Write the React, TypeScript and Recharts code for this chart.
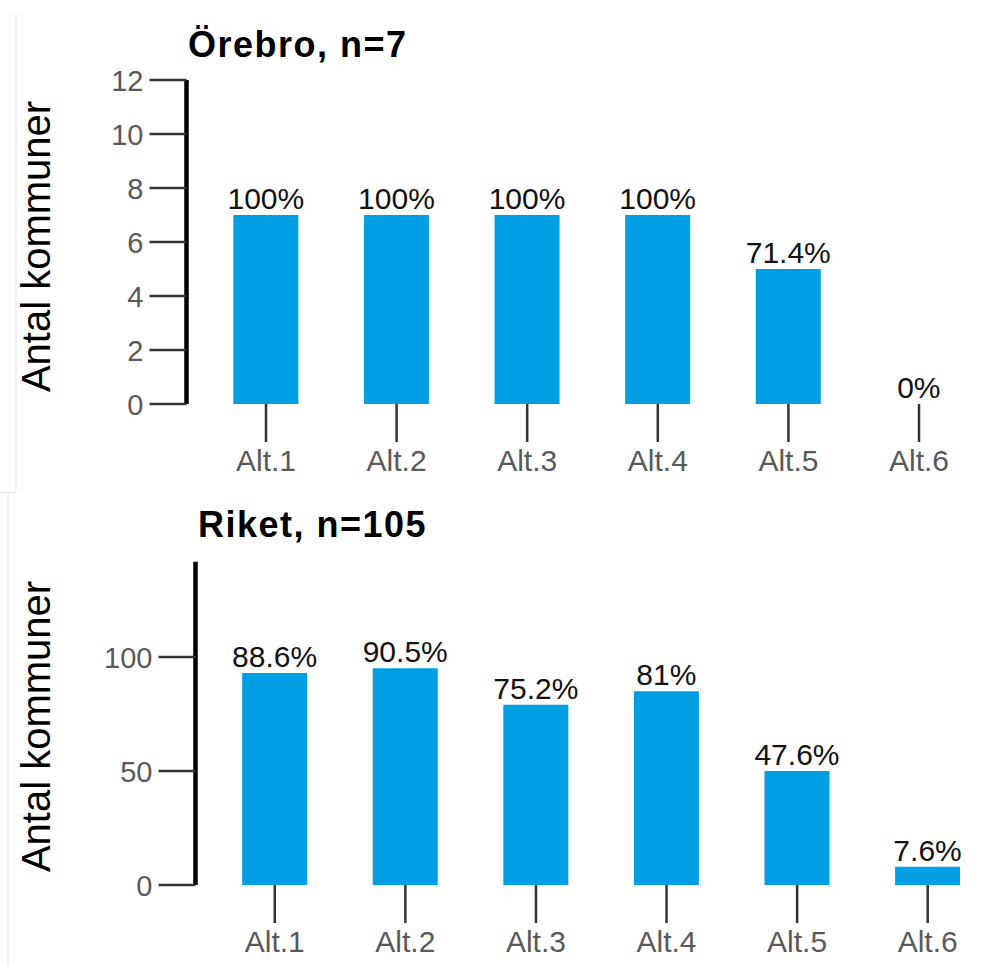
import React from 'react';
import { BarChart, Bar, XAxis, YAxis, LabelList } from 'recharts';

const categories = ['Alt.1', 'Alt.2', 'Alt.3', 'Alt.4', 'Alt.5', 'Alt.6'];
const orebroCounts = [7, 7, 7, 7, 5, 0];
const orebroPct = ['100%', '100%', '100%', '100%', '71.4%', '0%'];
const riketCounts = [93, 95, 79, 85, 50, 8];
const riketPct = ['88.6%', '90.5%', '75.2%', '81%', '47.6%', '7.6%'];
const orebroTicks = [0, 2, 4, 6, 8, 10, 12];
const riketTicks = [0, 50, 100];
const orebroTitle = 'Örebro, n=7';
const riketTitle = 'Riket, n=105';
const yLabel = 'Antal kommuner';

const FONT = '"Liberation Sans", Arial, Helvetica, sans-serif';
const BAR = '#009FE3';
const GRAY = '#595959';

const orebroData = categories.map((c, i) => ({ cat: c, value: orebroCounts[i], pct: orebroPct[i] }));
const riketData = categories.map((c, i) => ({ cat: c, value: riketCounts[i], pct: riketPct[i] }));

const XTick = (props: any) => {
  const { x, y, payload } = props;
  return (
    <text x={x} y={y + 29} textAnchor="middle" fontSize={30} fontFamily={FONT} fill={GRAY}>
      {payload.value}
    </text>
  );
};

const YTick = (props: any) => {
  const { x, y, payload } = props;
  return (
    <text x={x} y={y + 11} textAnchor="end" fontSize={29} fontFamily={FONT} fill={GRAY}>
      {payload.value}
    </text>
  );
};

const BarLabel = (props: any) => {
  const { x, y, width, height, value } = props;
  const top = Math.min(y, y + (height || 0));
  return (
    <text x={x + width / 2} y={top - 6} textAnchor="middle" fontSize={30} fontFamily={FONT} fill="#111">
      {value}
    </text>
  );
};

export default function App() {
  return (
    <div style={{ position: 'absolute', left: 0, top: 0, width: 993, height: 965, background: '#fff', overflow: 'hidden' }}>
      <div style={{ position: 'absolute', left: 0, top: 0 }}>
        <BarChart
          width={993}
          height={490}
          data={orebroData}
          margin={{ top: 80, right: 8.7, bottom: 0, left: 0 }}
          barCategoryGap="25%"
        >
          <XAxis
            dataKey="cat"
            axisLine={false}
            tickLine={{ stroke: '#333', strokeWidth: 2.5 }}
            tickSize={38}
            tickMargin={0}
            height={86}
            interval={0}
            padding={{ left: 14.2, right: 0 }}
            tick={<XTick />}
          />
          <YAxis
            type="number"
            domain={[0, 12]}
            ticks={orebroTicks}
            width={186.5}
            axisLine={{ stroke: '#000', strokeWidth: 4.5 }}
            tickLine={{ stroke: '#333', strokeWidth: 2.5 }}
            tickSize={37}
            tickMargin={6}
            tick={<YTick />}
            interval={0}
          />
          <Bar dataKey="value" fill={BAR} isAnimationActive={false} minPointSize={0.01}>
            <LabelList dataKey="pct" content={<BarLabel />} />
          </Bar>
        </BarChart>
      </div>
      <div style={{ position: 'absolute', left: 0, top: 480 }}>
        <BarChart
          width={993}
          height={485}
          data={riketData}
          margin={{ top: 81.7, right: 0, bottom: 0, left: 0 }}
          barCategoryGap="25%"
        >
          <XAxis
            dataKey="cat"
            axisLine={false}
            tickLine={{ stroke: '#333', strokeWidth: 2.5 }}
            tickSize={38}
            tickMargin={0}
            height={80}
            interval={0}
            padding={{ left: 14, right: 0 }}
            tick={<XTick />}
          />
          <YAxis
            type="number"
            domain={[0, 141.75]}
            ticks={riketTicks}
            width={195.5}
            axisLine={{ stroke: '#000', strokeWidth: 4.5 }}
            tickLine={{ stroke: '#333', strokeWidth: 2.5 }}
            tickSize={37}
            tickMargin={6}
            tick={<YTick />}
            interval={0}
          />
          <Bar dataKey="value" fill={BAR} isAnimationActive={false}>
            <LabelList dataKey="pct" content={<BarLabel />} />
          </Bar>
        </BarChart>
      </div>
      <svg width={993} height={965} style={{ position: 'absolute', left: 0, top: 0, pointerEvents: 'none' }}>
        <line x1={16} y1={13} x2={16} y2={491} stroke="#e3e3e3" strokeWidth={1} />
        <line x1={0} y1={492.5} x2={16} y2={492.5} stroke="#e3e3e3" strokeWidth={1} />
        <line x1={8} y1={492} x2={8} y2={965} stroke="#e3e3e3" strokeWidth={1} />
        <text x={188} y={57} fontSize={36} fontWeight="bold" fontFamily={FONT} fill="#000" letterSpacing={1.5}>
          {orebroTitle}
        </text>
        <text x={198} y={537} fontSize={36} fontWeight="bold" fontFamily={FONT} fill="#000" letterSpacing={1.5}>
          {riketTitle}
        </text>
        <text x={50} y={246.5} fontSize={40} fontFamily={FONT} fill="#000" textAnchor="middle" transform="rotate(-90, 50, 246.5)">
          {yLabel}
        </text>
        <text x={50} y={726.5} fontSize={40} fontFamily={FONT} fill="#000" textAnchor="middle" transform="rotate(-90, 50, 726.5)">
          {yLabel}
        </text>
      </svg>
    </div>
  );
}
